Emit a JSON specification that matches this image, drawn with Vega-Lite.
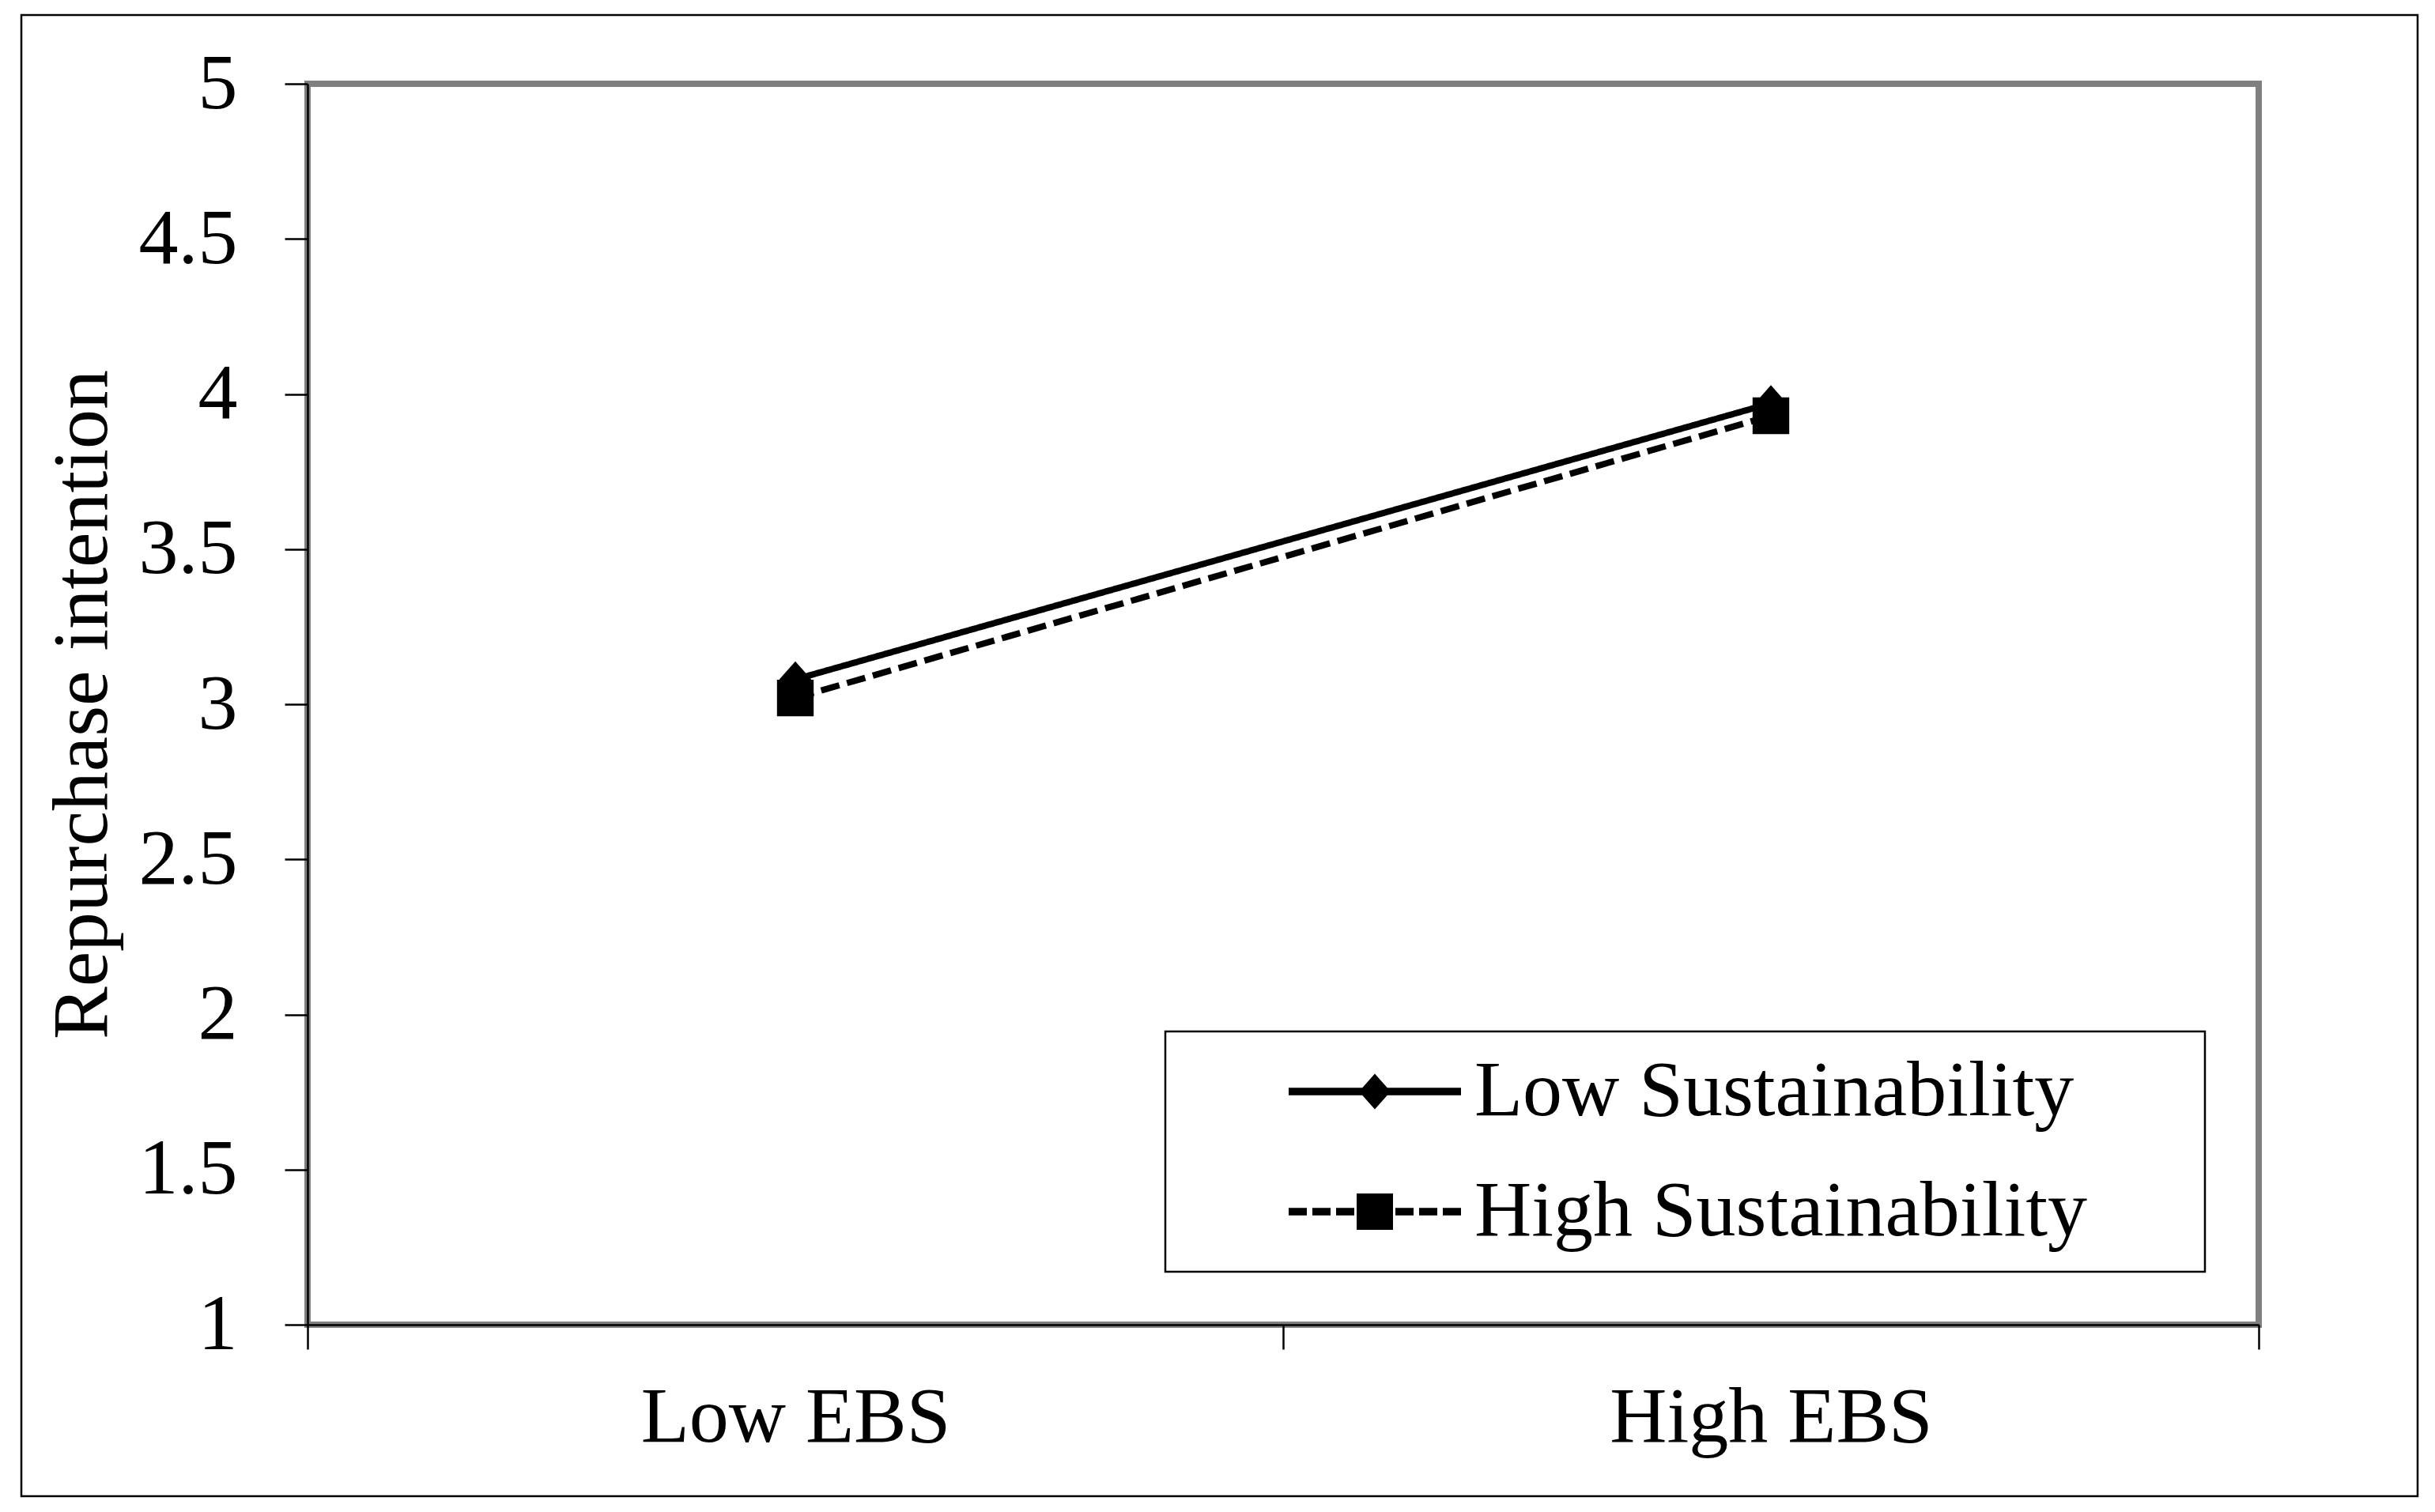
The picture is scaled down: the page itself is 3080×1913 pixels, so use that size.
{
  "$schema": "https://vega.github.io/schema/vega-lite/v6.json",
  "width": 3031,
  "height": 1874,
  "autosize": {"type": "none"},
  "padding": {"left": 27, "top": 19, "right": 22, "bottom": 20},
  "background": "white",
  "config": {
    "font": "Liberation Serif",
    "view": {"stroke": "black", "strokeWidth": 2.5}
  },
  "resolve": {"scale": {"x": "independent", "y": "independent"}},
  "layer": [
    {
      "data": {"values": [{"frame": "plot area"}]},
      "mark": {"type": "rect", "filled": false, "stroke": "#808080", "strokeWidth": 8},
      "encoding": {
        "x": {"datum": 0, "type": "quantitative", "scale": {"domain": [0, 1], "range": [362, 2830]}, "axis": null},
        "x2": {"datum": 1},
        "y": {"datum": 1, "type": "quantitative", "scale": {"domain": [1, 5], "range": [1657, 87]}, "axis": null},
        "y2": {"datum": 5}
      }
    },
    {
      "data": {
        "values": [
          {"ebs": "Low EBS", "series": "Low Sustainability", "value": 3.08},
          {"ebs": "High EBS", "series": "Low Sustainability", "value": 3.97},
          {"ebs": "Low EBS", "series": "High Sustainability", "value": 3.02},
          {"ebs": "High EBS", "series": "High Sustainability", "value": 3.93}
        ]
      },
      "encoding": {
        "x": {
          "field": "ebs",
          "type": "nominal",
          "sort": ["Low EBS", "High EBS"],
          "scale": {"type": "band", "paddingInner": 0, "paddingOuter": 0, "range": [362, 2830]},
          "axis": {
            "title": null,
            "offset": -217,
            "zindex": 1,
            "labelAngle": 0,
            "labelFont": "Liberation Serif",
            "labelFontSize": 100,
            "labelColor": "black",
            "labelPadding": 37,
            "labelLimit": 2000,
            "tickBand": "extent",
            "tickSize": 31,
            "tickWidth": 2.5,
            "tickColor": "black",
            "domainColor": "black",
            "domainWidth": 2.5,
            "grid": false
          }
        },
        "y": {
          "field": "value",
          "type": "quantitative",
          "scale": {"domain": [1, 5], "nice": false, "zero": false, "range": [1657, 87]},
          "axis": {
            "title": "Repurchase intention",
            "titleFont": "Liberation Serif",
            "titleFontSize": 100,
            "titleFontWeight": "normal",
            "titleColor": "black",
            "titlePadding": 34,
            "offset": -362,
            "zindex": 1,
            "values": [1, 1.5, 2, 2.5, 3, 3.5, 4, 4.5, 5],
            "format": "~g",
            "labelFont": "Liberation Serif",
            "labelFontSize": 100,
            "labelColor": "black",
            "labelPadding": 60,
            "tickSize": 29,
            "tickWidth": 2.5,
            "tickColor": "black",
            "domainColor": "black",
            "domainWidth": 2.5,
            "grid": false
          }
        }
      },
      "layer": [
        {
          "mark": {"type": "line", "color": "black", "strokeWidth": 8},
          "encoding": {
            "strokeDash": {
              "field": "series",
              "type": "nominal",
              "scale": {"domain": ["Low Sustainability", "High Sustainability"], "range": [[1, 0], [24, 10]]},
              "legend": {
                "title": null,
                "orient": "none",
                "legendX": 1447,
                "legendY": 1286,
                "padding": 26,
                "strokeColor": "black",
                "fillColor": "white",
                "labelFont": "Liberation Serif",
                "labelFontSize": 100,
                "labelColor": "black",
                "labelOffset": 76,
                "labelLimit": 3000,
                "labelExpr": "datum.label + '\u00a0\u00a0\u2800'",
                "symbolSize": 2500,
                "symbolStrokeWidth": 0,
                "symbolStrokeColor": "black",
                "symbolFillColor": "black",
                "symbolOffset": 189,
                "rowPadding": 52,
                "encode": {
                  "symbols": {
                    "update": {
                      "shape": {"signal": "datum.value === 'Low Sustainability' ? 'M-4.36,-0.19H4.36V0.19H-4.36Z M0,-0.9L0.8,0L0,0.9L-0.8,0Z' : 'M-4.36,-0.19H-3.44V0.19H-4.36Z M-3.16,-0.19H-2.24V0.19H-3.16Z M-1.96,-0.19H-1.04V0.19H-1.96Z M1.04,-0.19H1.96V0.19H1.04Z M2.24,-0.19H3.16V0.19H2.24Z M3.44,-0.19H4.36V0.19H3.44Z M-0.92,-0.92H0.92V0.92H-0.92Z'"},
                      "fill": {"value": "black"},
                      "stroke": {"value": "transparent"},
                      "strokeWidth": {"value": 0}
                    }
                  },
                  "legend": {"update": {"strokeWidth": {"value": 2.5}}}
                }
              }
            }
          }
        },
        {
          "transform": [{"filter": "datum.series === 'Low Sustainability'"}],
          "mark": {"type": "point", "filled": true, "color": "black", "opacity": 1, "size": 2100, "shape": "M0,-1L0.88,0L0,1L-0.88,0Z"}
        },
        {
          "transform": [{"filter": "datum.series === 'High Sustainability'"}],
          "mark": {"type": "point", "filled": true, "color": "black", "opacity": 1, "size": 2150, "shape": "square"}
        }
      ]
    }
  ]
}
